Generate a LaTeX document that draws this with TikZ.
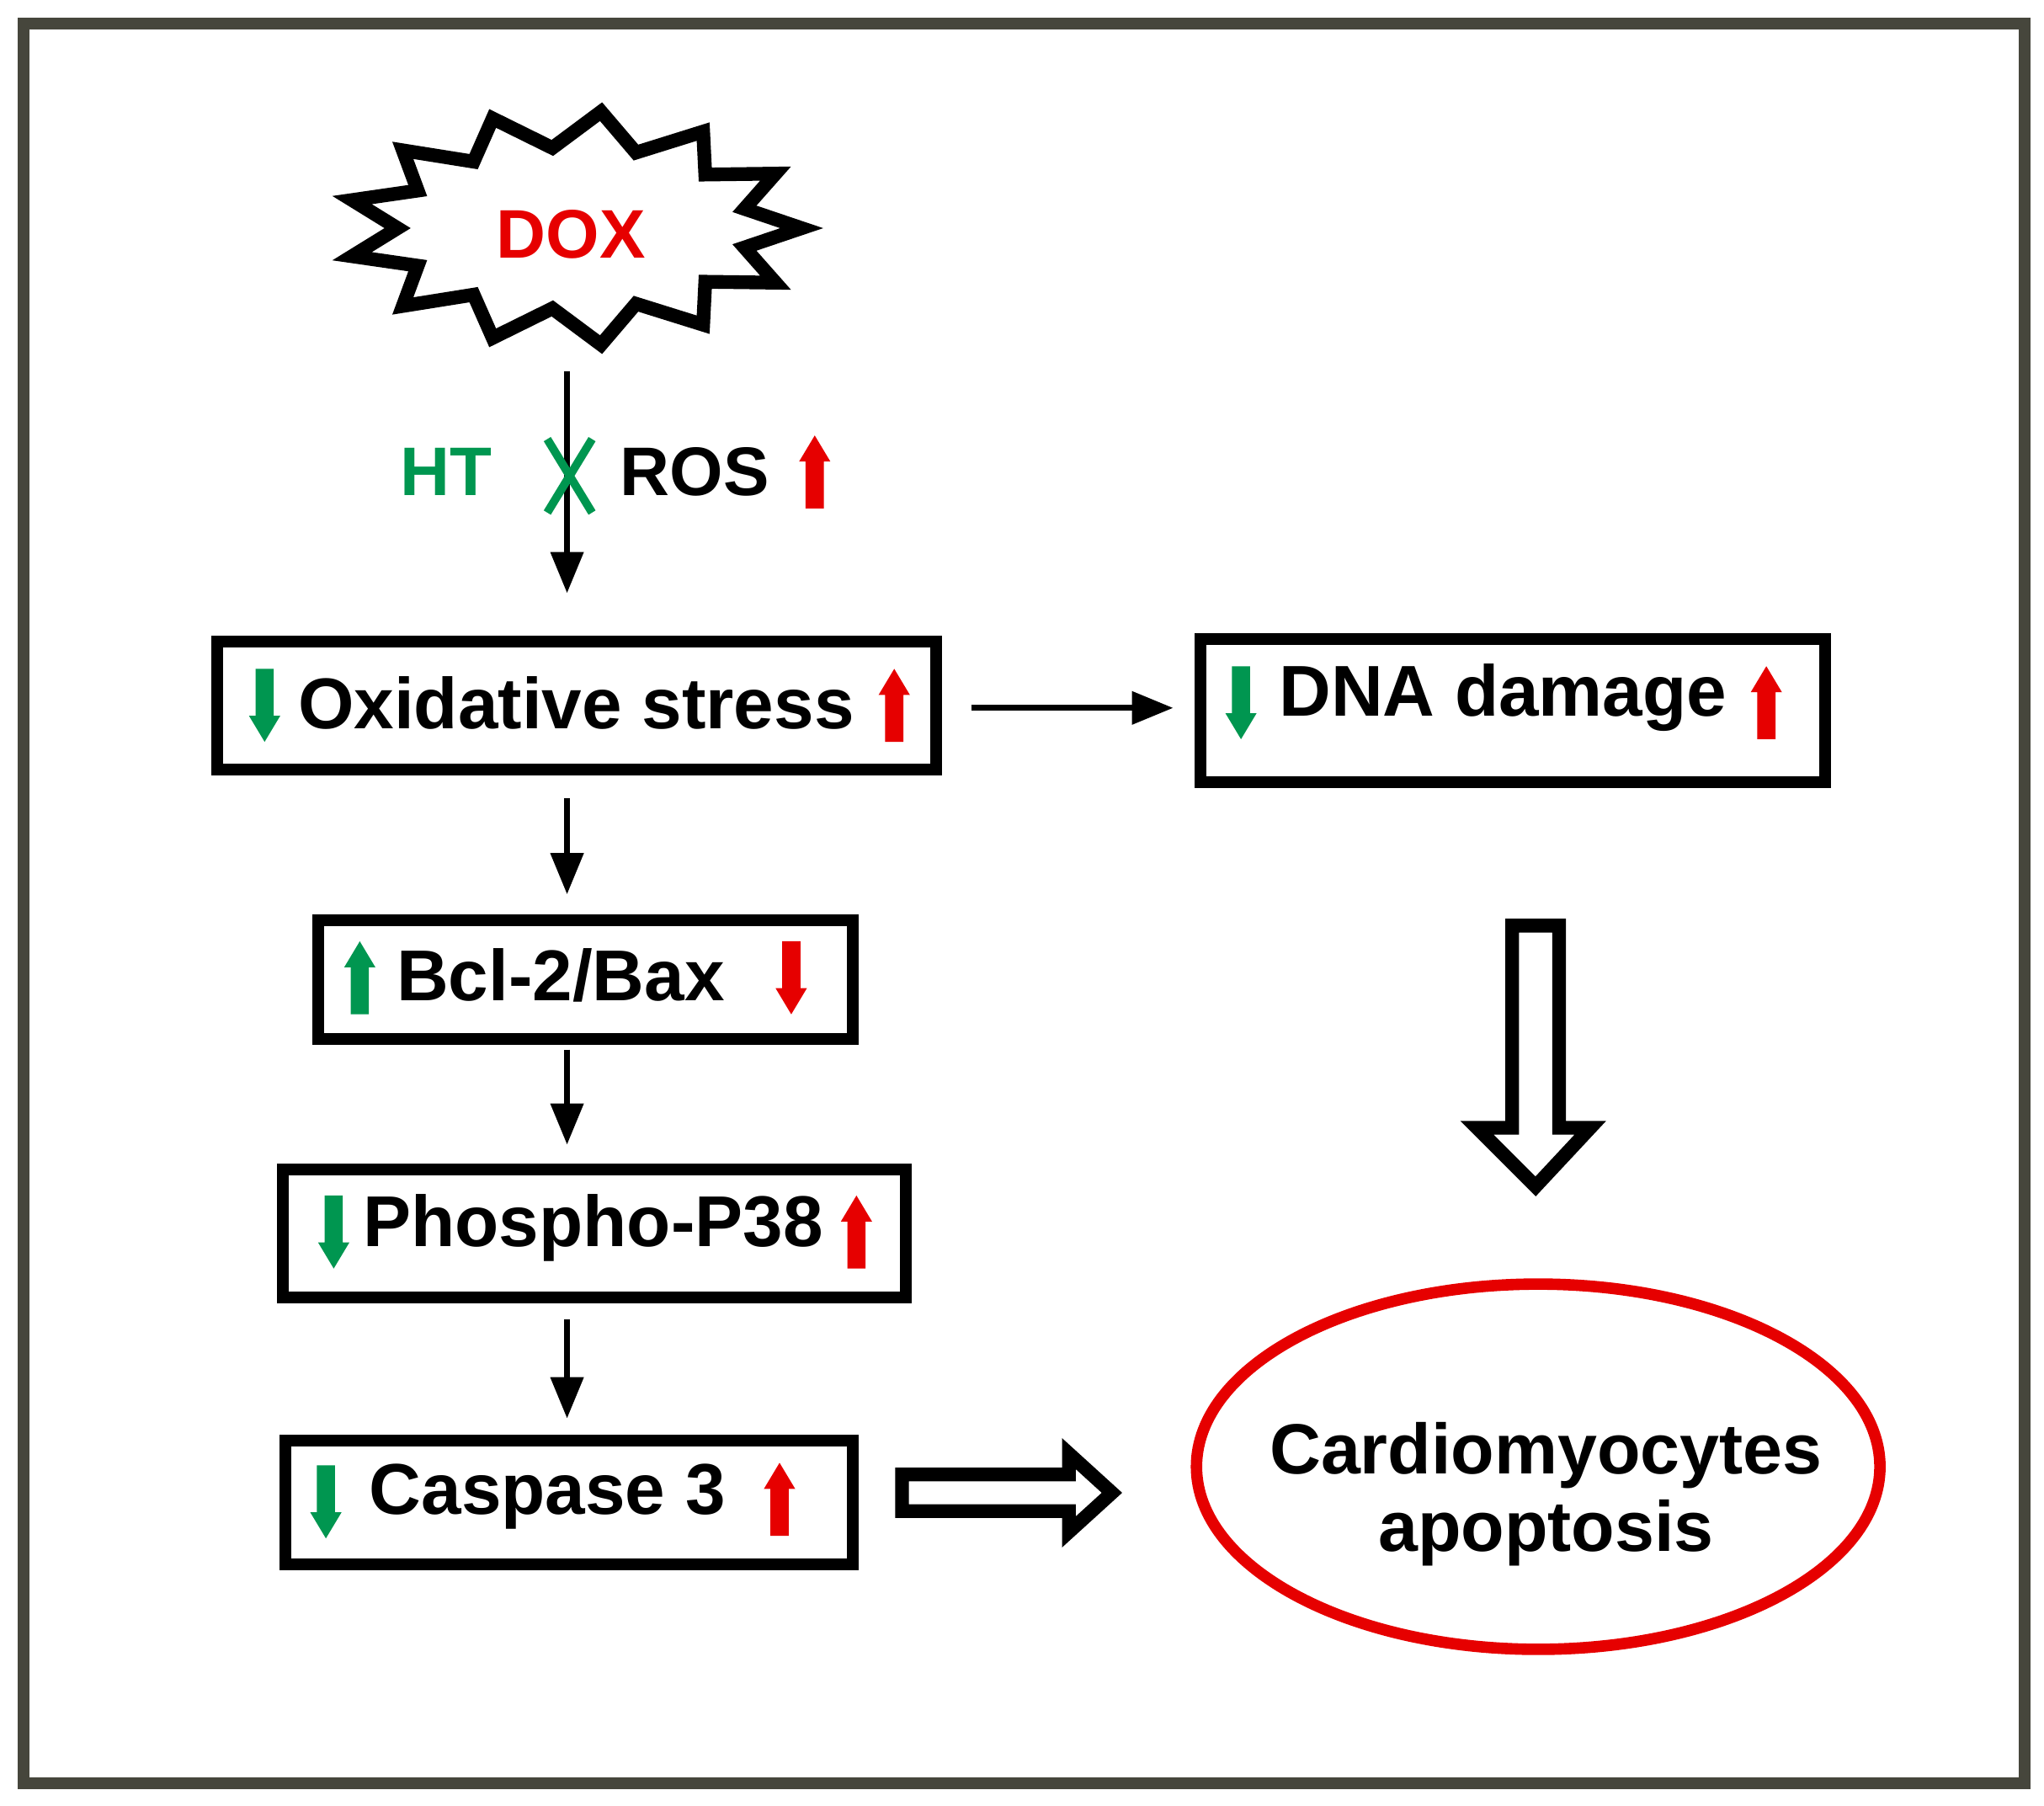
\documentclass[tikz,border=0pt]{standalone}
\usepackage{fontspec}
\setmainfont{Liberation Sans}
\usetikzlibrary{arrows.meta,shapes.geometric,shapes.arrows,shapes.misc}
\definecolor{gr}{RGB}{0,150,80}
\definecolor{rd}{RGB}{230,0,0}
\definecolor{frame}{RGB}{70,70,60}
\begin{document}
\begin{tikzpicture}[x=0.01cm,y=-0.01cm,
  box/.style={draw,line width=2.6pt,inner sep=0pt},
  lbl/.style={font=\fontsize{15.7}{20}\selectfont\bfseries},
  con/.style={-{Triangle[length=9pt,width=7pt]},line width=1.3pt},
  uarr/.pic={\fill[#1] (-7,28)--(-7,-8)--(-12,-8)--(0,-28)--(12,-8)--(7,-8)--(7,28)--cycle;},
  darr/.pic={\fill[#1] (-7,-28)--(-7,8)--(-12,8)--(0,28)--(12,8)--(7,8)--(7,-28)--cycle;}]
\useasboundingbox (0,0) rectangle (1568,1385);
\draw[frame,line width=2.5pt] (18,18) rectangle (1553,1368);
% DOX starburst
\draw[line width=3pt,fill=white]
 plot[samples at={0,...,25}] ({440+(mod(\x,2)==0 ? 175 : 135)*cos(\x*360/26)},{175+(mod(\x,2)==0 ? 90 : 62)*sin(\x*360/26)}) -- cycle;
\node[text=rd,font=\fontsize{15}{18}\selectfont\bfseries] (dox) at (438,180) {DOX};
\coordinate (a0) at (435,285);
\coordinate (a1) at (435,455);
\draw[con] (a0)--(a1);
\node[text=gr,font=\fontsize{15}{18}\selectfont\bfseries] (ht) at (342,362) {HT};
\node[draw=gr,line width=1.8pt,cross out,minimum width=0.28cm,minimum height=0.5cm,inner sep=0pt] (x) at (437,365) {};
\node[font=\fontsize{15}{18}\selectfont\bfseries] (ros) at (533,362) {ROS};
\pic at (625,362) {uarr=rd};
% boxes
\node[box,minimum width=5.51cm,minimum height=0.98cm] (ox) at (442.5,541) {};
\node[lbl] at (442,539) {Oxidative stress};
\pic at (203,541) {darr=gr}; \pic at (686,541) {uarr=rd};
\node[box,minimum width=4.79cm,minimum height=1.1cm] (dna) at (1160.5,545) {};
\node[lbl] at (1153,535) {DNA damage};
\pic at (952,539) {darr=gr}; \pic at (1355,539) {uarr=rd};
\node[box,minimum width=4.1cm,minimum height=0.91cm] (bcl) at (449,751.5) {};
\node[lbl] at (430,748) {Bcl-2/Bax};
\pic at (276,750) {uarr=gr}; \pic at (607,750) {darr=rd};
\node[box,minimum width=4.78cm,minimum height=0.98cm] (p38) at (456,946) {};
\node[lbl] at (455,942) {Phospho-P38};
\pic at (256,945) {darr=gr}; \pic at (657,945) {uarr=rd};
\node[box,minimum width=4.35cm,minimum height=0.95cm] (cas) at (436.5,1152.5) {};
\node[lbl] at (420,1148) {Caspase 3};
\pic at (250,1152) {darr=gr}; \pic at (598,1150) {uarr=rd};
% connectors
\coordinate (b0) at (745,543); \coordinate (b1) at (900,543);
\draw[con] (b0)--(b1);
\coordinate (c0) at (435,612); \coordinate (c1) at (435,686);
\draw[con] (c0)--(c1);
\coordinate (d0) at (435,805); \coordinate (d1) at (435,878);
\draw[con] (d0)--(d1);
\coordinate (e0) at (435,1012); \coordinate (e1) at (435,1088);
\draw[con] (e0)--(e1);
% ellipse
\node[draw=rd,line width=2.5pt,ellipse,minimum width=5.24cm,minimum height=2.8cm] (apo) at (1180,1125) {};
\node[lbl,align=center,font=\fontsize{15.5}{17}\selectfont\bfseries] at (1186,1146) {Cardiomyocytes\\apoptosis};
% hollow arrows
\draw[line width=3pt,fill=white] (692,1131)--(820,1131)--(820,1115)--(853,1145)--(820,1175)--(820,1159)--(692,1159)--cycle;
\draw[line width=3pt,fill=white] (1160,710)--(1196,710)--(1196,865)--(1220,865)--(1178,910)--(1133,865)--(1160,865)--cycle;
\end{tikzpicture}
\end{document}
